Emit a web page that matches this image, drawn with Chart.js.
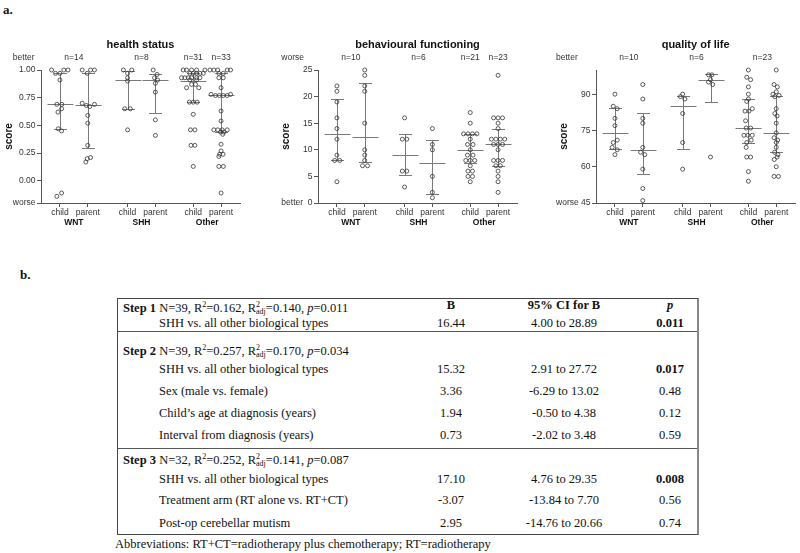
<!DOCTYPE html>
<html>
<head>
<meta charset="utf-8">
<script src="https://cdn.jsdelivr.net/npm/chart.js@4.4.1/dist/chart.umd.min.js"></script>
<style>
  body { margin: 0; background: #fff; width: 800px; height: 553px; position: relative; overflow: hidden;
         font-family: "Liberation Serif", "Times New Roman", serif; color: #111; }
  .panel { position: absolute; top: 0; height: 235px; }
  .lab { position: absolute; font-weight: bold; font-size: 13px; }
  .tbl { position: absolute; left: 117px; top: 298px; width: 582px; height: 237px; box-sizing: border-box;
         border: 1px solid #444; border-right: 2px solid #888; font-size: 12.5px; }
  .tbl .r { position: absolute; line-height: 14px; white-space: nowrap; }
  .tbl .c { position: absolute; width: 120px; text-align: center; line-height: 14px; white-space: nowrap; }
  .tbl .sep { position: absolute; left: 0; right: 0; border-top: 1px solid #555; }
  .tbl sup { font-size: 8px; vertical-align: 5px; }
  .tbl sub { font-size: 8px; vertical-align: -2px; margin-left: -4px; }
  .note { position: absolute; left: 115px; top: 537px; font-size: 12.5px; white-space: nowrap; }
</style>
</head>
<body>
<div class="lab" style="left:3px;top:2px;">a.</div>
<div class="lab" style="left:20px;top:267px;">b.</div>

<div class="panel" style="left:0;width:262px;"><canvas id="health"></canvas></div>
<div class="panel" style="left:262px;width:278px;"><canvas id="behaviour"></canvas></div>
<div class="panel" style="left:540px;width:260px;"><canvas id="qol"></canvas></div>

<div class="tbl" id="tbl"></div>
<div class="note">Abbreviations: RT+CT=radiotherapy plus chemotherapy; RT=radiotherapy</div>

<script>
// positions of the six child/parent columns on the x axis
const xPos = [1, 2, 3.43, 4.43, 5.79, 6.79];
const raterLabels = ["child", "parent", "child", "parent", "child", "parent"];
const groupLabels = ["WNT", "SHH", "Other"];
const groupCenters = [1.5, 3.93, 6.29];

// health status
const healthValues = [
  [1, 1, 1, 0.97, 0.97, 0.91, 0.69, 0.69, 0.65, 0.62, 0.47, 0.45, -0.14, -0.11],
  [1, 1, 1, 0.97, 0.7, 0.69, 0.68, 0.67, 0.59, 0.52, 0.32, 0.21, 0.2, 0.17],
  [1, 1, 0.97, 0.93, 0.9, 0.65, 0.65, 0.46],
  [1, 0.96, 0.93, 0.91, 0.88, 0.8, 0.55, 0.41],
  [1, 1, 1, 1, 1, 0.97, 0.97, 0.97, 0.97, 0.97, 0.93, 0.93, 0.93, 0.93, 0.93, 0.93,
   0.91, 0.91, 0.87, 0.87, 0.84, 0.84, 0.71, 0.71, 0.71, 0.6, 0.46, 0.46, 0.32, 0.32, 0.13],
  [1, 1, 1, 1, 1, 0.97, 0.97, 0.93, 0.93, 0.84, 0.78, 0.78, 0.77, 0.77, 0.77, 0.77, 0.63,
   0.54, 0.46, 0.46, 0.46, 0.46, 0.44, 0.44, 0.42, 0.33, 0.27, 0.24, 0.24, 0.22, 0.13, 0.13, -0.11]
];
const healthOffsets = [
  [-0.3, 0.14, 0.29, -0.16, 0, 0, -0.11, 0.07, 0.06, -0.07, -0.06, 0.06, -0.11, 0.06],
  [-0.2, 0.1, 0.24, -0.02, -0.2, 0.24, -0.05, 0.07, 0, 0, 0, 0.1, -0.02, -0.07],
  [-0.15, 0.15, 0, 0, 0, -0.1, 0.1, 0],
  [-0.08, 0.06, -0.03, 0.08, 0, 0, 0, 0],
  [-0.36, -0.24, -0.06, 0.12, 0.42, -0.12, 0, 0.12, 0.24, 0.36, -0.42, -0.3, -0.18, -0.06, 0.12, 0.24,
   -0.12, 0.12, -0.06, 0.08, -0.24, 0.2, -0.14, 0, 0.14, 0, -0.1, 0.06, -0.08, 0.06, 0],
  [-0.4, -0.26, -0.12, 0.22, 0.34, -0.08, 0.08, -0.08, 0.08, 0, -0.36, 0.34, -0.2, -0.06, 0.08, 0.22, 0,
   0, -0.26, -0.12, 0.04, 0.22, -0.02, 0.1, 0.06, 0, 0, -0.05, 0.07, -0.08, -0.08, 0.08, 0]
];
const healthMedian = [0.69, 0.68, 0.91, 0.91, 0.9, 0.77];
const healthQ1 = [0.47, 0.3, 0.65, 0.61, 0.71, 0.44];
const healthQ3 = [0.97, 0.97, 0.99, 0.96, 0.97, 0.97];
const healthTicks = [-0.2, 0, 0.25, 0.5, 0.75, 1];
const healthTickLabels = ["worse", "0.00", "0.25", "0.50", "0.75", "1.00"];
const healthN = ["n=14", "n=8", "n=31", "n=33"];
const healthNx = [1.5, 3.93, 5.79, 6.79];

// behavioural functioning
const behavValues = [
  [22, 21, 19, 16, 14, 12, 9, 8, 8, 4],
  [25, 24, 22, 21, 15, 10, 9, 8, 7, 7],
  [16, 12, 12, 6, 6, 3],
  [14, 11, 10, 5, 2, 1],
  [17, 15, 13, 13, 13, 13, 12, 11, 11, 10, 9, 9, 8, 8, 8, 7, 6, 6, 5, 5, 4],
  [24, 16, 16, 16, 15, 14, 12, 12, 12, 12, 11, 11, 11, 10, 8, 8, 8, 7, 7, 6, 5, 4, 2]
];
const behavOffsets = [
  [0, 0, 0, 0, 0, 0, 0, -0.08, 0.1, 0],
  [0, 0, 0, 0, 0, 0, 0, 0, -0.08, 0.1],
  [0, -0.08, 0.08, -0.08, 0.08, 0],
  [0, 0, 0, 0, 0, 0],
  [0, 0, -0.24, -0.08, 0.08, 0.24, 0, -0.1, 0.1, 0, -0.1, 0.1, -0.16, 0, 0.16, 0, -0.08, 0.08, -0.08, 0.08, 0],
  [0, -0.16, 0, 0.16, 0, 0, -0.24, -0.08, 0.08, 0.24, -0.16, 0, 0.16, 0, -0.16, 0, 0.16, -0.08, 0.08, 0, 0, 0, 0]
];
const behavMedian = [13, 12.5, 9, 7.5, 10, 11.1];
const behavQ1 = [8, 7.7, 5.25, 1.7, 7.5, 6.9];
const behavQ3 = [19.5, 22.5, 13, 11.8, 13, 14];
const behavTicks = [0, 5, 10, 15, 20, 25];
const behavTickLabels = ["better  0", "5", "10", "15", "20", "25"];
const behavN = ["n=10", "n=6", "n=21", "n=23"];
const behavNx = [1.5, 3.93, 5.79, 6.79];

// quality of life
const qolValues = [
  [90, 85, 84, 80, 77, 71, 70, 68, 67, 65],
  [94, 88, 80, 78, 68, 66, 65, 59, 51, 46],
  [90, 89, 88, 82, 70, 59],
  [98, 98, 96, 95, 94, 64],
  [100, 97, 96, 93, 90, 88, 87, 84, 83, 83, 79, 76, 76, 73, 73, 73, 71, 70, 68, 64, 64, 58, 54],
  [100, 94, 93, 91, 90, 89.5, 89, 84, 82, 81, 78, 74, 72, 71, 70, 68, 66, 65, 64, 63, 60, 56, 56]
];
const qolOffsets = [
  [0, -0.06, 0.08, 0, 0, 0.08, -0.06, -0.1, 0.08, 0],
  [0, 0, 0, 0, 0, -0.08, 0.07, 0, 0, 0],
  [0, -0.08, 0.08, 0, 0, 0],
  [-0.07, 0.05, 0, -0.07, 0.08, 0],
  [0, -0.06, 0.08, 0, 0, 0, -0.06, 0.14, -0.12, 0.02, -0.1, -0.08, 0.08, -0.16, -0.02, 0.14, 0.1, -0.06, -0.08, -0.06, 0.08, 0, 0],
  [0, -0.08, 0.04, 0, -0.12, 0.1, -0.05, 0, -0.05, 0.03, 0, 0, -0.08, 0.05, 0, 0, -0.06, 0.06, 0.03, -0.07, 0, -0.08, 0.08]
];
const qolMedian = [74, 66.8, 85, 95.7, 76, 74];
const qolQ1 = [67.5, 57, 67.4, 86.8, 70, 66];
const qolQ3 = [84.3, 82.1, 89.3, 98.3, 88, 89.3];
const qolTicks = [45, 60, 75, 90];
const qolTickLabels = ["worse 45", "60", "75", "90"];
const qolN = ["n=10", "n=6", "n=23"];
const qolNx = [1.5, 3.93, 6.29];

const SANS = '"Liberation Sans", Arial, sans-serif';

const decor = {
  id: "decor",
  beforeDatasetsDraw(chart, args, o) {
    const { ctx, scales: { x, y } } = chart;
    ctx.save();
    ctx.strokeStyle = "#7a7a7a";
    ctx.lineWidth = 1;
    o.median.forEach((m, i) => {
      const px = Math.round(x.getPixelForValue(xPos[i])) + 0.5;
      const ym = Math.round(y.getPixelForValue(m)) + 0.5;
      const y1 = Math.round(y.getPixelForValue(o.q1[i])) + 0.5;
      const y3 = Math.round(y.getPixelForValue(o.q3[i])) + 0.5;
      ctx.beginPath();
      ctx.moveTo(px, y1); ctx.lineTo(px, y3);
      ctx.moveTo(px - 13, ym); ctx.lineTo(px + 13, ym);
      ctx.moveTo(px - 6.5, y1); ctx.lineTo(px + 6.5, y1);
      ctx.moveTo(px - 6.5, y3); ctx.lineTo(px + 6.5, y3);
      ctx.stroke();
    });
    ctx.restore();
  },
  afterDraw(chart, args, o) {
    const { ctx, chartArea: a, scales: { x } } = chart;
    ctx.save();
    ctx.textAlign = "center";
    ctx.textBaseline = "middle";
    ctx.fillStyle = "#111";
    ctx.font = "bold 11px " + SANS;
    ctx.fillText(o.title, (a.left + a.right) / 2, 45);

    ctx.fillStyle = "#333";
    ctx.font = "8.5px " + SANS;
    o.nLabels.forEach((t, i) => ctx.fillText(t, x.getPixelForValue(o.nX[i]), 58));

    ctx.fillStyle = "#111";
    ctx.font = "bold 8.5px " + SANS;
    groupLabels.forEach((g, i) => ctx.fillText(g, x.getPixelForValue(groupCenters[i]), 223));

    ctx.save();
    ctx.translate(a.left - 32, (a.top + a.bottom) / 2);
    ctx.rotate(-Math.PI / 2);
    ctx.font = "bold 10px " + SANS;
    ctx.fillText("score", 0, 0);
    ctx.restore();

    // label above the y axis, lined up with the bottom tick label
    ctx.fillStyle = "#333";
    ctx.font = "8.5px " + SANS;
    ctx.textAlign = "left";
    const w = ctx.measureText(o.tickLabels[0]).width;
    ctx.fillText(o.topLabel, a.left - 5.5 - w, 58);
    ctx.restore();
  }
};

function makeChart(id, c) {
  const datasets = c.values.map((vals, g) => ({
    data: vals.map((v, i) => ({ x: xPos[g] + c.offsets[g][i], y: v })),
    pointRadius: 2,
    pointBorderWidth: 0.8,
    pointBorderColor: "#333",
    pointBackgroundColor: "rgba(255,255,255,0)",
    showLine: false,
    clip: false
  }));
  const axisGrid = { drawOnChartArea: false, drawTicks: true, tickLength: 4, color: "#555" };
  return new Chart(document.getElementById(id), {
    type: "scatter",
    data: { datasets },
    plugins: [decor],
    options: {
      responsive: true,
      maintainAspectRatio: false,
      animation: false,
      layout: { padding: { top: 70, right: c.padRight, left: 0, bottom: 0 } },
      plugins: {
        legend: { display: false },
        tooltip: { enabled: false },
        decor: {
          title: c.title, nLabels: c.nLabels, nX: c.nX, topLabel: c.topLabel,
          tickLabels: c.tickLabels, median: c.median, q1: c.q1, q3: c.q3
        }
      },
      scales: {
        x: {
          type: "linear", min: 0.32, max: 7.47,
          grid: axisGrid,
          border: { display: true, color: "#555" },
          afterBuildTicks: s => { s.ticks = xPos.map(v => ({ value: v })); },
          afterFit: s => { s.height = 32; },
          ticks: {
            autoSkip: false, maxRotation: 0, minRotation: 0, padding: 1,
            color: "#333", font: { family: SANS, size: 8.5 },
            callback: (v, i) => raterLabels[i]
          }
        },
        y: {
          min: c.min, max: c.max,
          grid: axisGrid,
          border: { display: true, color: "#555" },
          afterBuildTicks: s => { s.ticks = c.ticks.map(v => ({ value: v })); },
          afterFit: s => { s.width = c.yWidth; },
          ticks: {
            padding: 1.5, color: "#333", font: { family: SANS, size: 8.5 },
            callback: (v, i) => c.tickLabels[i]
          }
        }
      }
    }
  });
}

makeChart("health", {
  title: "health status", values: healthValues, offsets: healthOffsets,
  median: healthMedian, q1: healthQ1, q3: healthQ3,
  ticks: healthTicks, tickLabels: healthTickLabels, min: -0.2, max: 1,
  nLabels: healthN, nX: healthNx, topLabel: "better", yWidth: 41, padRight: 22
});
makeChart("behaviour", {
  title: "behavioural functioning", values: behavValues, offsets: behavOffsets,
  median: behavMedian, q1: behavQ1, q3: behavQ3,
  ticks: behavTicks, tickLabels: behavTickLabels, min: 0, max: 25,
  nLabels: behavN, nX: behavNx, topLabel: "worse", yWidth: 56, padRight: 23
});
makeChart("qol", {
  title: "quality of life", values: qolValues, offsets: qolOffsets,
  median: qolMedian, q1: qolQ1, q3: qolQ3,
  ticks: qolTicks, tickLabels: qolTickLabels, min: 45, max: 100,
  nLabels: qolN, nX: qolNx, topLabel: "better", yWidth: 56, padRight: 4
});

// regression table (part b)
const R2 = 'R<sup>2</sup>';
const R2adj = 'R<sup>2</sup><sub>adj</sub>';
const stepHeaders = [
  { top: 6, html: '<b>Step 1</b> N=39, ' + R2 + '=0.162, ' + R2adj + '=0.140, <i>p</i>=0.011' },
  { top: 49, html: '<b>Step 2</b> N=39, ' + R2 + '=0.257, ' + R2adj + '=0.170, <i>p</i>=0.034' },
  { top: 158, html: '<b>Step 3</b> N=32, ' + R2 + '=0.252, ' + R2adj + '=0.141, <i>p</i>=0.087' }
];
const predictors = [
  "SHH vs. all other biological types",
  "SHH vs. all other biological types", "Sex (male vs. female)",
  "Child\u2019s age at diagnosis (years)", "Interval from diagnosis (years)",
  "SHH vs. all other biological types", "Treatment arm (RT alone vs. RT+CT)",
  "Post-op cerebellar mutism"
];
const coefB = ["16.44", "15.32", "3.36", "1.94", "0.73", "17.10", "-3.07", "2.95"];
const ciB = ["4.00 to 28.89", "2.91 to 27.72", "-6.29 to 13.02", "-0.50 to 4.38", "-2.02 to 3.48",
             "4.76 to 29.35", "-13.84 to 7.70", "-14.76 to 20.66"];
const pVals = ["0.011", "0.017", "0.48", "0.12", "0.59", "0.008", "0.56", "0.74"];
const pBold = [true, true, false, false, false, true, false, false];
const rowCenters = [24, 70, 92, 114, 136, 180, 201, 224];

const tbl = document.getElementById("tbl");
let html = '';
stepHeaders.forEach(s => {
  html += '<div class="r" style="left:5px;top:' + (s.top - 7) + 'px">' + s.html + '</div>';
});
html += '<div class="c" style="left:' + (333 - 60) + 'px;top:-1px"><b>B</b></div>';
html += '<div class="c" style="left:' + (446 - 60) + 'px;top:-1px"><b>95% CI for B</b></div>';
html += '<div class="c" style="left:' + (552 - 60) + 'px;top:-1px"><b><i>p</i></b></div>';
predictors.forEach((t, i) => {
  const top = rowCenters[i] - 7;
  html += '<div class="r" style="left:41px;top:' + top + 'px">' + t + '</div>';
  html += '<div class="c" style="left:' + (333 - 60) + 'px;top:' + top + 'px">' + coefB[i] + '</div>';
  html += '<div class="c" style="left:' + (446 - 60) + 'px;top:' + top + 'px">' + ciB[i] + '</div>';
  html += '<div class="c" style="left:' + (552 - 60) + 'px;top:' + top + 'px">' +
          (pBold[i] ? '<b>' + pVals[i] + '</b>' : pVals[i]) + '</div>';
});
html += '<div class="sep" style="top:32px"></div>';
html += '<div class="sep" style="top:149px"></div>';
tbl.innerHTML = html;
</script>
</body>
</html>
